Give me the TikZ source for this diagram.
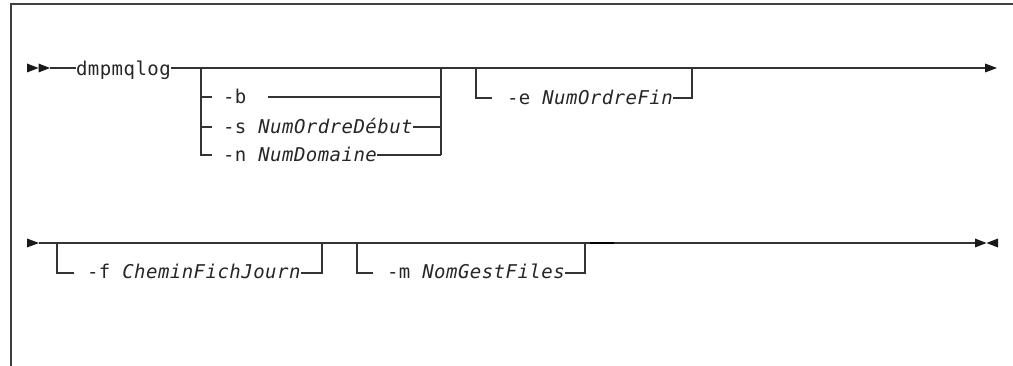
\documentclass[tikz,border=0pt]{standalone}
\usepackage{fontspec}
\newfontfamily\rrmono[LetterSpace=2.5]{DejaVu Sans Mono}
\begin{document}
\begin{tikzpicture}[x=1pt,y=-1pt,
  line width=1.1pt,
  rail/.style={draw=black!80, line width=1.1pt},
  tip/.style={fill=black!90},
  lbl/.style={anchor=base west, inner sep=0pt, outer sep=0pt,
    font=\rrmono\fontsize{19}{22}\selectfont, text=black!85}]
\useasboundingbox (0,0) rectangle (1013,366);
% frame
\draw[black!75, line width=1.3pt] (1013,4) -- (11,4) -- (11,366);

% ---------- row 1 ----------
\fill[tip] (27,63.5) -- (38.5,68) -- (27,72.5) -- cycle;
\fill[tip] (38.5,63.5) -- (50,68) -- (38.5,72.5) -- cycle;
\coordinate (s1) at (50,68);
\node[lbl] (cmd) at (76,75.5) {dmpmqlog};
\coordinate (g1l) at (201,68);
\coordinate (g1r) at (441,68);
\coordinate (g1b) at (201,155);
\coordinate (g1rb) at (441,155);
\node[lbl] (optb) at (223,104) {-b};
\node[lbl] (opts) at (223,133.5) {-s \textit{NumOrdreDébut}};
\node[lbl] (optn) at (223,161.5) {-n \textit{NumDomaine}};
\coordinate (g2l) at (476,68);
\coordinate (g2r) at (692,68);
\node[lbl] (opte) at (507,104.5) {-e \textit{NumOrdreFin}};
\coordinate (e1) at (985,68);
\fill[tip] (985,63.5) -- (997,68) -- (985,72.5) -- cycle;

\draw[rail] (s1) -- (s1 -| cmd.west);
\draw[rail] (s1 -| cmd.east) -- (g1l) -- (g1r) -- (g2l) -- (g2r) -- (e1);
% group 1
\draw[rail] (g1l) -- (g1b) -- (212,155);
\draw[rail] (201,97) -- (212,97);
\draw[rail] (201,127) -- (212,127);
\draw[rail] (g1r) -- (g1rb);
\draw[rail] ([xshift=22pt]optb.east |- g1l |- 0,97) -- (441,97);
\draw[rail] (opts.east |- 0,127) -- (441,127);
\draw[rail] (optn.east |- 0,155) -- (g1rb);
% group 2
\draw[rail] (g2l) -- (476,98) -- (492,98);
\draw[rail] (opte.east |- 0,98) -- (692,98) -- (g2r);

% ---------- row 2 ----------
\fill[tip] (27,238.5) -- (39,243) -- (27,247.5) -- cycle;
\coordinate (s2) at (39,243);
\coordinate (fl) at (57,243);
\coordinate (fr) at (322,243);
\coordinate (ml) at (357,243);
\coordinate (mr) at (585,243);
\coordinate (e2) at (975,243);
\node[lbl] (optf) at (87,279) {-f \textit{CheminFichJourn}};
\node[lbl] (optm) at (387,279) {-m \textit{NomGestFiles}};
\draw[rail] (s2) -- (fl) -- (fr) -- (ml) -- (mr) -- (e2);
\draw[line width=2pt, black] (590,243) -- (614,243);
\draw[rail] (fl) -- (57,273) -- (74,273);
\draw[rail] (optf.east |- 0,273) -- (322,273) -- (fr);
\draw[rail] (ml) -- (357,273) -- (373,273);
\draw[rail] (optm.east |- 0,273) -- (585,273) -- (mr);
\fill[tip] (975,238.5) -- (986.5,243) -- (975,247.5) -- cycle;
\fill[tip] (998,238.5) -- (986.5,243) -- (998,247.5) -- cycle;
\end{tikzpicture}
\end{document}
